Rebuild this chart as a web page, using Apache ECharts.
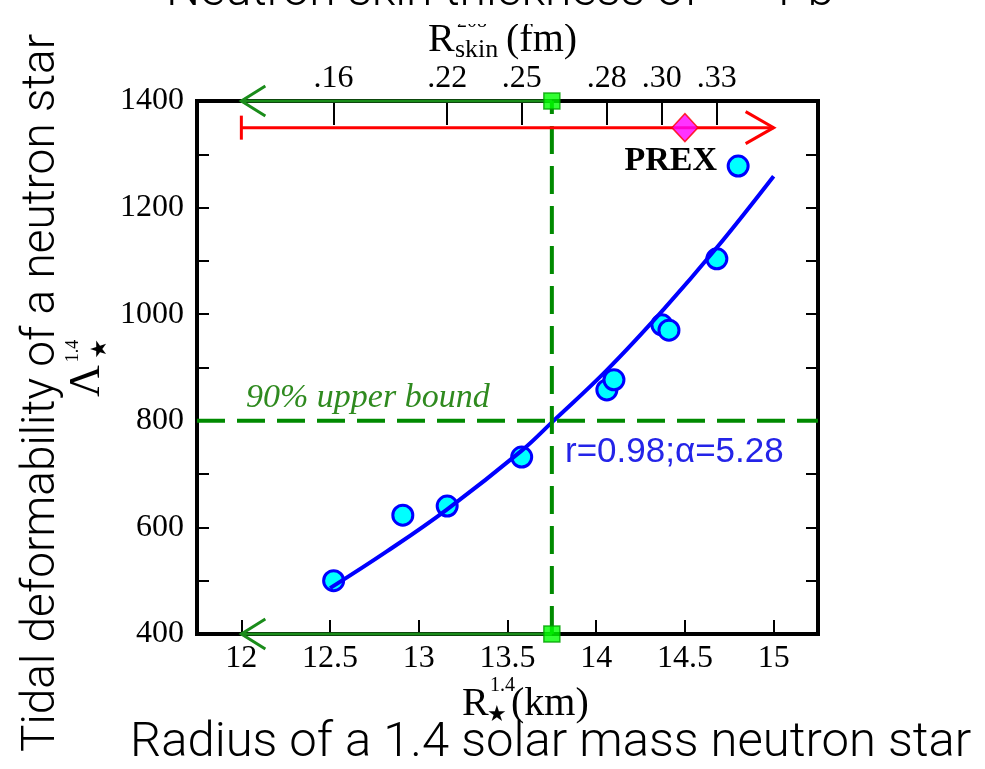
<!DOCTYPE html>
<html>
<head>
<meta charset="utf-8">
<script src="https://cdn.jsdelivr.net/npm/echarts@6/dist/echarts.min.js"></script>
<style>
  html, body { margin: 0; padding: 0; background: #fff; }
  #chart { width: 985px; height: 769px; }
</style>
</head>
<body>
<div id="chart"></div>
<script>
// Radius of a 1.4 Msun neutron star (km) and its tidal deformability, one entry per model
const radius = [12.52, 12.91, 13.16, 13.58, 14.06, 14.10, 14.37, 14.41, 14.68, 14.80];
const lambda = [500, 623, 640, 732, 858, 877, 980, 970, 1104, 1278];

// Power-law fit through the models (r = 0.98, alpha = 5.28), sampled along the curve
const fitRadius = [12.50, 12.82, 13.16, 13.58, 13.75, 14.06, 14.38, 14.68, 15.00];
const fitLambda = [486, 555, 634, 744, 797, 895, 1009, 1125, 1259];

// Bottom axis ticks (km)
const radiusTicks = [12, 12.5, 13, 13.5, 14, 14.5, 15];

// Top axis: neutron skin thickness of 208Pb (fm) at the radius of selected models
const skinTickRadius = [12.52, 13.16, 13.58, 14.06, 14.37, 14.68];
const skinTickLabels = ['.16', '.22', '.25', '.28', '.30', '.33'];

// GW170817 90% upper bound on Lambda and the radius it implies
const boundLambda = 800;
const boundRadius = 13.75;
const boundArrowEnd = 12.0;
const lambdaMin = 400, lambdaMax = 1400;

// PREX: central value and range
const prexLambda = 1350;
const prexRadius = 14.5;
const prexRange = [12.0, 15.0];

const xMin = 11.75, xMax = 15.25;

const GREEN = '#008a00';
const SERIF = '"Liberation Serif", "Times New Roman", serif';
const SANS = '"Liberation Sans", Arial, sans-serif';
const LIGHT = 'Roboto, "Liberation Sans", sans-serif';

// Horizontal arrow drawn in data space: [xStart, y, xEnd]
function arrowSeries(data, color, startBar, headLen, headHalf) {
  return {
    type: 'custom',
    coordinateSystem: 'cartesian2d',
    z: 5,
    clip: false,
    silent: true,
    data: data,
    renderItem: function (params, api) {
      const a = api.coord([api.value(0), api.value(1)]);
      const b = api.coord([api.value(2), api.value(1)]);
      const dir = b[0] > a[0] ? 1 : -1;
      const style = { stroke: color, lineWidth: 3, fill: null };
      const children = [
        { type: 'line', shape: { x1: a[0], y1: a[1], x2: b[0], y2: b[1] }, style: style },
        { type: 'polyline', shape: { points: [
          [b[0] - dir * headLen, b[1] - headHalf], [b[0], b[1]], [b[0] - dir * headLen, b[1] + headHalf]
        ] }, style: style }
      ];
      if (startBar) {
        children.push({ type: 'line', shape: { x1: a[0], y1: a[1] - 12, x2: a[0], y2: a[1] + 12 }, style: style });
      }
      return { type: 'group', children: children };
    }
  };
}

const chart = echarts.init(document.getElementById('chart'), null, { renderer: 'canvas' });

const tickStyle = { color: '#000', width: 2 };
const labelFont = { fontFamily: SERIF, fontSize: 32, color: '#000' };

chart.setOption({
  animation: false,
  backgroundColor: '#fff',
  grid: {
    left: 197, top: 101, width: 621, height: 533,
    show: true, borderColor: '#000', borderWidth: 4, backgroundColor: 'transparent'
  },
  xAxis: [
    {
      type: 'value', position: 'bottom', min: xMin, max: xMax,
      axisLine: { show: false },
      splitLine: { show: false },
      axisTick: { inside: true, length: 14, lineStyle: tickStyle, customValues: radiusTicks },
      axisLabel: Object.assign({ margin: 9, customValues: radiusTicks }, labelFont)
    },
    {
      type: 'value', position: 'top', min: xMin, max: xMax,
      axisLine: { show: false },
      splitLine: { show: false },
      axisTick: { inside: true, length: 24, lineStyle: tickStyle, customValues: skinTickRadius },
      axisLabel: Object.assign({
        margin: 6, customValues: skinTickRadius,
        formatter: function (v) {
          const i = skinTickRadius.indexOf(v);
          return i >= 0 ? skinTickLabels[i] : '';
        }
      }, labelFont)
    }
  ],
  yAxis: [
    {
      type: 'value', position: 'left', min: lambdaMin, max: lambdaMax, interval: 200,
      axisLine: { show: false },
      splitLine: { show: false },
      axisTick: { inside: true, length: 12, lineStyle: tickStyle },
      minorTick: { show: true, splitNumber: 2, length: 12, lineStyle: tickStyle },
      axisLabel: Object.assign({ margin: 13, formatter: function (v) { return String(v); } }, labelFont)
    },
    {
      type: 'value', position: 'right', min: lambdaMin, max: lambdaMax, interval: 200,
      axisLine: { show: false },
      splitLine: { show: false },
      axisTick: { inside: true, length: 12, lineStyle: tickStyle },
      minorTick: { show: true, splitNumber: 2, length: 12, lineStyle: tickStyle },
      axisLabel: { show: false }
    }
  ],
  series: [
    {
      name: 'models', type: 'scatter', z: 2,
      symbol: 'circle', symbolSize: 20,
      itemStyle: { color: '#00ffff', borderColor: '#0000ff', borderWidth: 3, opacity: 1 },
      data: radius.map((r, i) => [r, lambda[i]])
    },
    {
      name: 'fit', type: 'line', z: 3, smooth: 0.4, symbol: 'none', clip: false,
      lineStyle: { color: '#0000ff', width: 4 },
      data: fitRadius.map((r, i) => [r, fitLambda[i]])
    },
    {
      name: 'bound', type: 'line', z: 4, symbol: 'none', clip: false,
      lineStyle: { color: GREEN, width: 4, type: [28, 12] },
      data: [[xMin, boundLambda], [xMax, boundLambda]]
    },
    {
      name: 'boundRadius', type: 'line', z: 4, symbol: 'none', clip: false,
      lineStyle: { color: GREEN, width: 4, type: [28, 12] },
      data: [[boundRadius, lambdaMin], [boundRadius, lambdaMax]]
    },
    arrowSeries([[boundRadius, lambdaMax, boundArrowEnd], [boundRadius, lambdaMin, boundArrowEnd]],
      '#1a8c1a', false, 24, 15),
    arrowSeries([[prexRange[0], prexLambda, prexRange[1]]], '#ff0000', true, 28, 16),
    {
      name: 'boundMarks', type: 'scatter', z: 6, clip: false,
      symbol: 'rect', symbolSize: 16,
      itemStyle: { color: '#00ff00', borderColor: '#00a000', borderWidth: 1.5 },
      data: [[boundRadius, lambdaMax], [boundRadius, lambdaMin]]
    },
    {
      name: 'PREX', type: 'scatter', z: 6, clip: false,
      symbol: 'diamond', symbolSize: [26, 28],
      itemStyle: { color: '#ff00ff', borderColor: '#ff0000', borderWidth: 1.5 },
      data: [[prexRadius, prexLambda]]
    }
  ],
  graphic: [
    // annotations inside the frame
    { type: 'text', z: 50, style: { text: '90% upper bound', x: 246, y: 398, textVerticalAlign: 'middle',
      font: 'italic 34px ' + SERIF, fill: '#2f8a1f' } },
    { type: 'text', z: 50, style: { text: 'r=0.98;\u03b1=5.28', x: 565, y: 452, textVerticalAlign: 'middle',
      font: '35px ' + SANS, fill: '#2424e8' } },
    { type: 'text', z: 50, style: { text: 'PREX', x: 717, y: 161, textAlign: 'right', textVerticalAlign: 'middle',
      font: 'bold 34px ' + SERIF, fill: '#000' } },

    // bottom axis name: R_star^1.4 (km)
    { type: 'text', z: 50, style: { text: 'R', x: 462, y: 704, textVerticalAlign: 'middle', font: '40px ' + SERIF, fill: '#000' } },
    { type: 'text', z: 50, style: { text: '1.4', x: 490, y: 686, textVerticalAlign: 'middle', font: '20px ' + SERIF, fill: '#000' } },
    { type: 'text', z: 50, style: { text: '\u2605', x: 487, y: 715, textVerticalAlign: 'middle', font: '22px "DejaVu Sans"', fill: '#000' } },
    { type: 'text', z: 50, style: { text: '(km)', x: 511, y: 704, textVerticalAlign: 'middle', font: '40px ' + SERIF, fill: '#000' } },

    // top axis name: R_skin^208 (fm)
    { type: 'text', z: 40, style: { text: '208', x: 457, y: 22, textVerticalAlign: 'middle', font: '20px ' + SERIF, fill: '#000' } },
    { type: 'text', z: 50, style: { text: 'R', x: 428, y: 40, textVerticalAlign: 'middle', font: '40px ' + SERIF, fill: '#000' } },
    { type: 'text', z: 50, style: { text: 'skin', x: 455, y: 50, textVerticalAlign: 'middle', font: '26px ' + SERIF, fill: '#000' } },
    { type: 'text', z: 50, style: { text: '(fm)', x: 506, y: 40, textVerticalAlign: 'middle', font: '40px ' + SERIF, fill: '#000' } },

    // left axis name: Lambda_star^1.4, reading upwards
    { type: 'group', x: 87, y: 381, rotation: Math.PI / 2, z: 50, children: [
      { type: 'text', style: { text: '\u039b', x: 0, y: 0, textAlign: 'center', textVerticalAlign: 'middle', font: '44px ' + SERIF, fill: '#000' } },
      { type: 'text', style: { text: '1.4', x: 30, y: -14, textAlign: 'center', textVerticalAlign: 'middle', font: '18px ' + SERIF, fill: '#000' } },
      { type: 'text', style: { text: '\u2605', x: 32, y: 13, textAlign: 'center', textVerticalAlign: 'middle', font: '22px "DejaVu Sans"', fill: '#000' } }
    ] },

    // headline band
    { type: 'rect', z: 60, shape: { x: 0, y: 0, width: 985, height: 24 }, style: { fill: '#fff' } },
    { type: 'text', z: 70, style: { text: 'Neutron skin thickness of', x: 166, y: -7, textVerticalAlign: 'middle',
      font: '300 48px ' + LIGHT, fill: '#000' } },
    { type: 'text', z: 70, style: { text: '208', x: 728, y: -13, textVerticalAlign: 'middle',
      font: '300 28px ' + LIGHT, fill: '#000' } },
    { type: 'text', z: 70, style: { text: 'Pb', x: 778, y: -7, textVerticalAlign: 'middle',
      font: '300 48px ' + LIGHT, fill: '#000' } },

    // plain-language axis captions
    { type: 'text', z: 70, style: { text: 'Radius of a 1.4 solar mass neutron star', x: 130, y: 744, textVerticalAlign: 'middle',
      font: '300 49px ' + LIGHT, fill: '#000' } },
    { type: 'group', x: 42, y: 752, rotation: Math.PI / 2, z: 70, children: [
      { type: 'text', style: { text: 'Tidal deformability of a neutron star', x: 0, y: 0, textVerticalAlign: 'middle',
        font: '300 46px ' + LIGHT, fill: '#000' } }
    ] }
  ]
});
</script>
</body>
</html>
